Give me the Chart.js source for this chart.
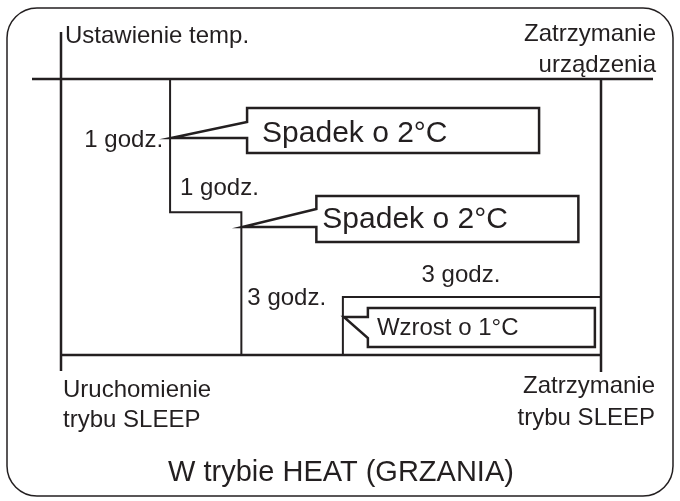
<!DOCTYPE html>
<html lang="pl">
<head>
<meta charset="utf-8">
<title>Tryb SLEEP - grzanie</title>
<script src="https://cdn.jsdelivr.net/npm/chart.js@4.4.1/dist/chart.umd.min.js"></script>
<style>
  html, body { margin: 0; padding: 0; background: #fff; }
  #wykres { display: block; }
</style>
</head>
<body>
<canvas id="wykres" width="680" height="501"></canvas>
<script>
// schemat nie jest w skali - wartosci
var etapy = ["1 godz.", "1 godz.", "3 godz.", "3 godz."];
var czas = [0, 1.01, 1.67, 2.61, 5];        // chwile zmian (jednostki rysunku)
var poziom = [0, -1.93, -4, -3.16, -3.16];  // narysowany poziom ustawionej temp.
var zmiany = ["Spadek o 2°C", "Spadek o 2°C", "Wzrost o 1°C"];

var kolor = "#231f20";
var czcionka = "'Liberation Sans', Arial, Helvetica, sans-serif";

var punkty = czas.map(function(x, i) {
  return { x: x, y: poziom[i] };
});

// dymki: ksztalt wzgledem czubka, ktory dotyka linii schodkowej
var dymki = [
  { krok: 1, ty: 138, rozmiar: 30, tx: 91, tb: 4,
    ksztalt: [[76,-30],[368,-30],[368,15],[76,15],[76,0],[0,0],[76,-16]] },
  { krok: 2, ty: 227, rozmiar: 30, tx: 80, tb: 1,
    ksztalt: [[74,-31],[336,-31],[336,15],[74,15],[74,0],[0,0],[74,-18]] },
  { krok: 3, ty: 317, rozmiar: 24, tx: 33, tb: 18,
    ksztalt: [[24,-9],[251,-9],[251,30],[24,30],[24,21],[0,0],[24,0]] }
];

function napis(c, t, x, y, rozmiar, wyr) {
  c.font = rozmiar + "px " + czcionka;
  c.textAlign = wyr || "left";
  c.textBaseline = "alphabetic";
  c.fillText(t, x, y);
}

var schemat = {
  id: "schemat",
  beforeDraw: function(chart) {
    var c = chart.ctx;
    c.save();
    c.fillStyle = "#fff";
    c.fillRect(0, 0, chart.width, chart.height);
    c.strokeStyle = kolor;
    c.lineWidth = 1.5;
    c.beginPath();
    c.roundRect(7, 8, 666, 488, 30);
    c.stroke();
    c.restore();
  },
  afterDatasetsDraw: function(chart) {
    var c = chart.ctx;
    var sx = chart.scales.x, sy = chart.scales.y;
    var x0 = sx.getPixelForValue(czas[0]);
    var xk = sx.getPixelForValue(czas[czas.length - 1]);
    var yG = sy.getPixelForValue(poziom[0]);
    var yD = sy.getPixelForValue(Math.min.apply(null, poziom));

    c.save();
    c.strokeStyle = kolor;
    c.fillStyle = kolor;
    c.lineCap = "butt";

    // osie
    c.lineWidth = 2.5;
    c.beginPath();
    c.moveTo(x0, 32); c.lineTo(x0, yD + 16);
    c.moveTo(x0 - 29, yG); c.lineTo(xk + 52, yG);
    c.moveTo(x0, yD); c.lineTo(xk, yD);
    c.moveTo(xk, yG); c.lineTo(xk, yD + 17);
    c.stroke();

    // dymki
    dymki.forEach(function(d, i) {
      var tx = sx.getPixelForValue(czas[d.krok]) + 1;
      var ty = d.ty;
      c.beginPath();
      d.ksztalt.forEach(function(p, j) {
        if (j === 0) c.moveTo(tx + p[0], ty + p[1]);
        else c.lineTo(tx + p[0], ty + p[1]);
      });
      c.closePath();
      c.fillStyle = "#fff";
      c.fill();
      c.lineWidth = 2.5;
      c.lineJoin = "miter";
      c.stroke();
      c.fillStyle = kolor;
      napis(c, zmiany[i], tx + d.tx, ty + d.tb, d.rozmiar);
    });

    // opisy
    var x1 = sx.getPixelForValue(czas[1]);
    var x2 = sx.getPixelForValue(czas[2]);
    var x3 = sx.getPixelForValue(czas[3]);
    napis(c, "Ustawienie temp.", x0 + 4, 43, 24);
    napis(c, "Zatrzymanie", xk + 55, 41, 24, "right");
    napis(c, "urządzenia", xk + 55, 72, 24, "right");
    napis(c, etapy[0], x1 - 7, 147, 24, "right");
    napis(c, etapy[1], x1 + 10, 195, 24);
    napis(c, etapy[2], x2 + 6, 305, 24);
    napis(c, etapy[3], (x3 + xk) / 2 - 11, 282, 24, "center");
    napis(c, "Uruchomienie", x0 + 2, 397, 24);
    napis(c, "trybu SLEEP", x0 + 2, 427, 24);
    napis(c, "Zatrzymanie", xk + 54, 393, 24, "right");
    napis(c, "trybu SLEEP", xk + 54, 425, 24, "right");
    napis(c, "W trybie HEAT (GRZANIA)", 341, 481, 29, "center");
    c.restore();
  }
};

var ctx = document.getElementById("wykres").getContext("2d");
var wykres = new Chart(ctx, {
  type: "scatter",
  data: {
    datasets: [{
      data: punkty,
      showLine: true,
      stepped: "before",
      borderColor: kolor,
      borderWidth: 2,
      pointRadius: 0,
      fill: false
    }]
  },
  options: {
    responsive: false,
    animation: false,
    layout: { padding: 0 },
    plugins: { legend: { display: false }, tooltip: { enabled: false } },
    scales: {
      x: { type: "linear", min: -61 / 108, max: 619 / 108, display: false },
      y: { type: "linear", min: -422 / 69, max: 79 / 69, display: false }
    }
  },
  plugins: [schemat]
});
</script>
</body>
</html>
